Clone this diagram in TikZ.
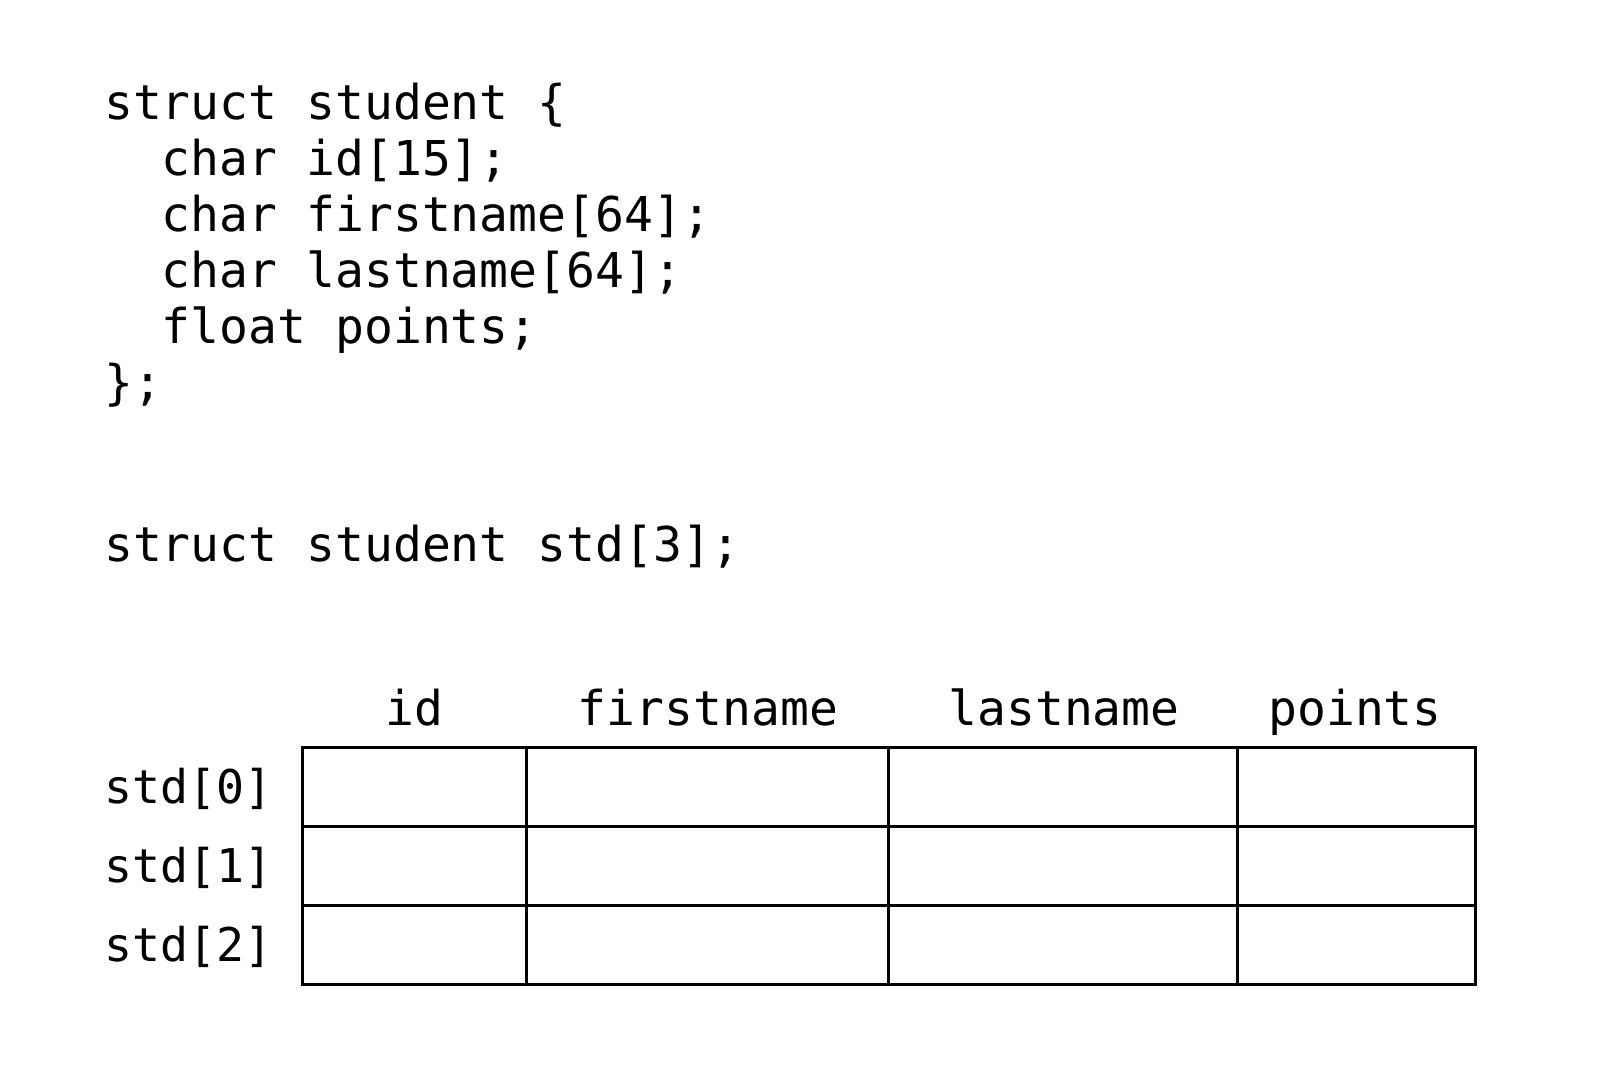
\documentclass[tikz,border=0pt]{standalone}
\usepackage{fontspec}
\setmonofont{DejaVu Sans Mono}
\begin{document}
\begin{tikzpicture}[x=1pt,y=-1pt,
  code/.style={anchor=base west,inner sep=0pt,font=\ttfamily\fontsize{48}{56}\selectfont},
  head/.style={anchor=base,inner sep=0pt,font=\ttfamily\fontsize{48}{56}\selectfont},
  rowlab/.style={anchor=base west,inner sep=0pt,font=\ttfamily\fontsize{46.5}{56}\selectfont},
  cell/.style={draw,line width=2.6pt,inner sep=0pt,anchor=north west}]
\useasboundingbox[fill=white] (0,0) rectangle (1612,1080);
% code
\node[code] (l1) at (104,119) {struct student \{};
\node[code] (l2) at (104,175) {\ \ char id[15];};
\node[code] (l3) at (104,231) {\ \ char firstname[64];};
\node[code] (l4) at (104,287) {\ \ char lastname[64];};
\node[code] (l5) at (104,343) {\ \ float points;};
\node[code] (l6) at (104,399) {\};};
\node[code] (decl) at (104,561) {struct student std[3];};
% table cells
\foreach \r/\y in {0/746,1/825,2/904}{
  \node[cell,minimum width=224pt,minimum height=79pt] (c\r a) at (301,\y) {};
  \node[cell,minimum width=362pt,minimum height=79pt] (c\r b) at (525,\y) {};
  \node[cell,minimum width=349pt,minimum height=79pt] (c\r c) at (887,\y) {};
  \node[cell,minimum width=238pt,minimum height=79pt] (c\r d) at (1236,\y) {};
}
% headers
\node[head] (hid) at (414,725) {id};
\node[head] (hfn) at (708,725) {firstname};
\node[head] (hln) at (1064,725) {lastname};
\node[head] (hpt) at (1355,725) {points};
% row labels
\node[rowlab] (r0) at (104,803) {std[0]};
\node[rowlab] (r1) at (104,882) {std[1]};
\node[rowlab] (r2) at (104,961) {std[2]};
\end{tikzpicture}
\end{document}
